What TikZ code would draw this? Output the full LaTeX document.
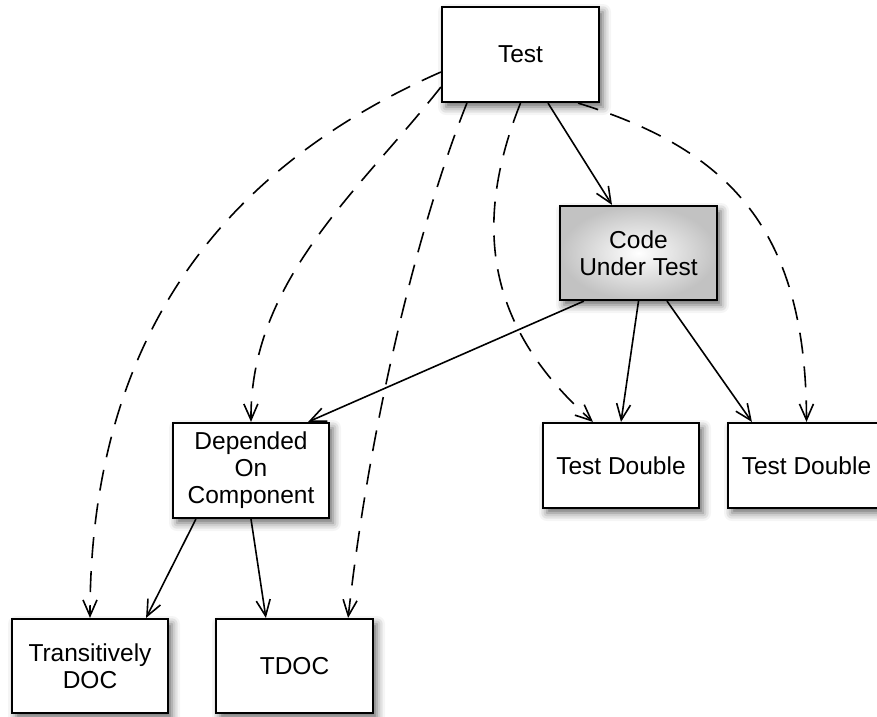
\documentclass[tikz,border=0pt]{standalone}
\usepackage{fontspec}
\setmainfont{Liberation Sans}
\usetikzlibrary{arrows.meta,shadows.blur,calc}
\begin{document}
\begin{tikzpicture}[x=1pt,y=-1pt,
  box/.style={draw=black,line width=2.2pt,fill=white,rectangle,align=center,
    inner sep=0pt,font=\fontsize{24.5}{27}\selectfont,
    blur shadow={shadow xshift=4pt,shadow yshift=-5pt,shadow blur radius=8pt,shadow opacity=60}},
  conn/.style={line width=1.6pt,-{Straight Barb[length=16pt,width=14pt,line width=1.6pt]}},
  dconn/.style={conn,dash pattern=on 21pt off 13pt}]
\useasboundingbox (0,0) rectangle (877,716);
\node[box,minimum width=157pt,minimum height=95pt] (test) at (520.5,54.5) {Test};
\node[box,minimum width=157pt,minimum height=94pt,shading=radial,inner color=white,outer color=black!24] (cut) at (638.5,253) {Code\\Under Test};
\node[box,minimum width=156pt,minimum height=95pt] (doc) at (251,470.5) {Depended\\On\\Component};
\node[box,minimum width=156pt,minimum height=85pt] (td1) at (621,465.5) {Test Double};
\node[box,minimum width=157pt,minimum height=85pt] (td2) at (806.5,465.5) {Test Double};
\node[box,minimum width=156pt,minimum height=94pt] (trans) at (90,666) {Transitively\\DOC};
\node[box,minimum width=157pt,minimum height=94pt] (tdoc) at (294.5,666) {TDOC};
% solid
\draw[conn] ([xshift=27.5pt]test.south) -- ([xshift=-26.5pt]cut.north);
\draw[conn] ([xshift=25pt]cut.south west) -- ([xshift=-22pt]doc.north east);
\draw[conn] (cut.south) -- (td1.north);
\draw[conn] ([xshift=28.5pt]cut.south) -- ([xshift=25pt]td2.north west);
\draw[conn] ([xshift=24pt]doc.south west) -- ([xshift=-23pt]trans.north east);
\draw[conn] (doc.south) -- ([xshift=51pt]tdoc.north west);
% dashed
\draw[dconn] ([yshift=-17.5pt]test.west) .. controls (230,165) and (90,330) .. (trans.north);
\draw[dconn] ([yshift=-32.5pt]test.west) .. controls (360,190) and (250,280) .. (doc.north);
\draw[dconn] ([xshift=26pt]test.south west) .. controls (420,220) and (370,420) .. ([xshift=-26pt]tdoc.north east);
\draw[dconn] (test.south) .. controls (470,230) and (490,330) .. ([xshift=-28pt]td1.north);
\draw[dconn] ([xshift=-22pt]test.south east) .. controls (730,150) and (806,230) .. (td2.north);
\end{tikzpicture}
\end{document}
